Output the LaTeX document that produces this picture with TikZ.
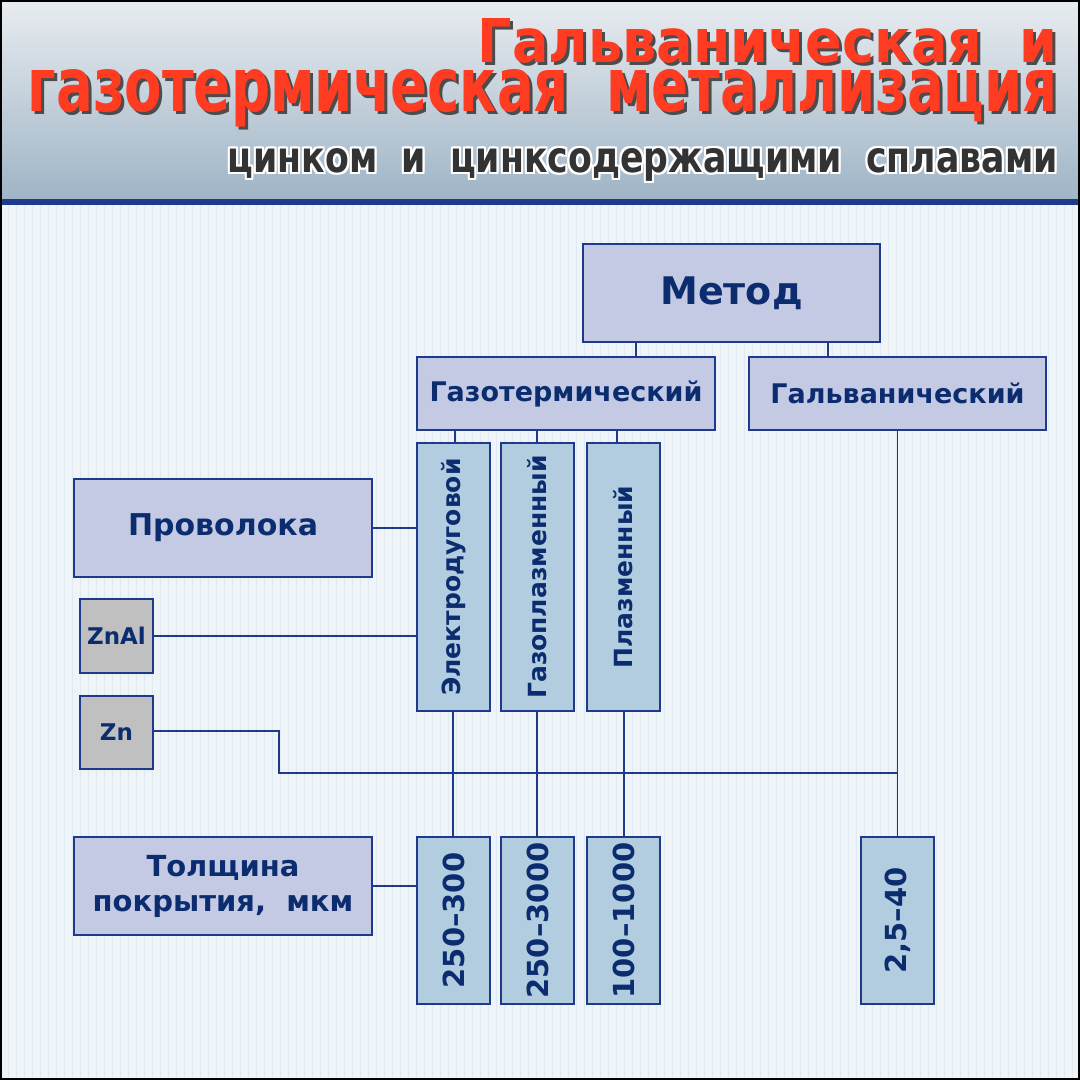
\documentclass[tikz,border=0pt]{standalone}
\usepackage{fontspec}
\setmainfont{DejaVu Sans}
\usepackage{graphicx}
\definecolor{bord}{HTML}{1F3A8A}
\definecolor{txt}{HTML}{0B2C6E}
\definecolor{lav}{HTML}{C4CAE4}
\definecolor{lblue}{HTML}{B3CDE0}
\definecolor{gry}{HTML}{C0C0C0}
\definecolor{ttl}{HTML}{FF3B22}
\definecolor{bg}{HTML}{EEF4F8}
\definecolor{gridc}{HTML}{E0EAF1}
\definecolor{hdtop}{HTML}{E8ECF0}
\definecolor{hdbot}{HTML}{9FB4C6}
\tikzset{
 box/.style={draw=bord,line width=1.6pt,fill=lav,text=txt,font=\bfseries,align=center,inner sep=0pt},
 vbox/.style={box,fill=lblue},
 gbox/.style={box,fill=gry},
 ln/.style={draw=bord,line width=1.4pt},
 ttlt/.style={anchor=base east,inner sep=0pt,font=\bfseries\fontsize{50}{50}\selectfont},
}
\begin{document}
\begin{tikzpicture}[x=1pt,y=-1pt]
\useasboundingbox (0,0) rectangle (1080,1080);
\fill[bg] (0,200) rectangle (1080,1080);
\draw[gridc,step=8,line width=0.5pt] (0,204) grid (1080,1080);
\shade[top color=hdtop,bottom color=hdbot] (0,0) rectangle (1080,200);
\fill[bord] (0,199) rectangle (1080,205);
\draw[black,line width=4pt] (0,0) rectangle (1080,1080);
% title
\foreach \dx/\col in {3/black!70,0/ttl}{
 \node[ttlt,text=\col] (t1\dx) at (1058+\dx,62+\dx) {\resizebox{580pt}{44pt}{Гальваническая\ \ и}};
 \node[ttlt,text=\col] (t2\dx) at (1058+\dx,111+\dx) {\resizebox{1030pt}{42pt}{газотермическая\ \ металлизация}};
}
\foreach \dx/\dy in {-2/0,2/0,0/-2,0/2,-2/-2,2/2,-2/2,2/-2}{
 \node[ttlt,text=white] (sw\dx\dy) at (1058+\dx,172+\dy) {\resizebox{830pt}{24pt}{цинком\ \ и\ \ цинксодержащими\ \ сплавами}};
}
\node[ttlt,text=black!80] (st) at (1058,172) {\resizebox{830pt}{24pt}{цинком\ \ и\ \ цинксодержащими\ \ сплавами}};
% boxes
\node[box,minimum width=297,minimum height=98,font=\bfseries\fontsize{38}{38}\selectfont] (m) at (731.5,293) {Метод};
\node[box,minimum width=298,minimum height=73,font=\bfseries\fontsize{27}{27}\selectfont] (gt) at (566,393.5) {Газотермический};
\node[box,minimum width=297,minimum height=73,font=\bfseries\fontsize{27}{27}\selectfont] (gv) at (897.5,393.5) {Гальванический};
\node[vbox,minimum width=268,minimum height=73,rotate=90,font=\bfseries\fontsize{25}{25}\selectfont] (e) at (453.5,577) {Электродуговой};
\node[vbox,minimum width=268,minimum height=73,rotate=90,font=\bfseries\fontsize{25}{25}\selectfont] (gp) at (537.5,577) {Газоплазменный};
\node[vbox,minimum width=268,minimum height=73,rotate=90,font=\bfseries\fontsize{25}{25}\selectfont] (p) at (623.5,577) {Плазменный};
\node[box,minimum width=298,minimum height=98,font=\bfseries\fontsize{30}{30}\selectfont] (pr) at (223,528) {Проволока};
\node[gbox,minimum width=73,minimum height=74,font=\bfseries\fontsize{23}{23}\selectfont] (za) at (116.5,636) {ZnAl};
\node[gbox,minimum width=73,minimum height=73,font=\bfseries\fontsize{23}{23}\selectfont] (zn) at (116.5,732.5) {Zn};
\node[box,minimum width=298,minimum height=98,font=\bfseries\fontsize{29}{35}\selectfont] (th) at (223,886) {Толщина\\покрытия,\ \ мкм};
\foreach \n/\x/\t in {v1/453.5/250–300,v2/537.5/250–3000,v3/623.5/100–1000,v4/897.5/{2,5–40}}{
 \node[vbox,minimum width=167,minimum height=73,rotate=90,font=\bfseries\fontsize{29}{29}\selectfont] (\n) at (\x,920.5) {\t};
}
% connectors
\draw[ln] (m.south -| 636,0) -- (gt.north -| 636,0);
\draw[ln] (m.south -| 828,0) -- (gv.north -| 828,0);
\draw[ln] (gt.south -| 455,0) -- (e.east -| 455,0);
\draw[ln] (gt.south -| 537,0) -- (gp.east -| 537,0);
\draw[ln] (gt.south -| 617,0) -- (p.east -| 617,0);
\draw[ln] (pr.east) -- (e.north |- pr.east);
\draw[ln] (za.east) -- (e.north |- za.east);
\coordinate (c1) at (279,731);
\coordinate (c2) at (279,773);
\coordinate (c3) at (897,773);
\draw[ln] (zn.east |- c1) -- (c1) -- (c2) -- (c3);
\draw[ln] (gv.south) -- (v4.east);
\draw[ln] (e.west -| 453,0) -- (v1.east -| 453,0);
\draw[ln] (gp.west -| 537,0) -- (v2.east -| 537,0);
\draw[ln] (p.west -| 624,0) -- (v3.east -| 624,0);
\draw[ln] (th.east) -- (v1.north |- th.east);
\end{tikzpicture}
\end{document}
